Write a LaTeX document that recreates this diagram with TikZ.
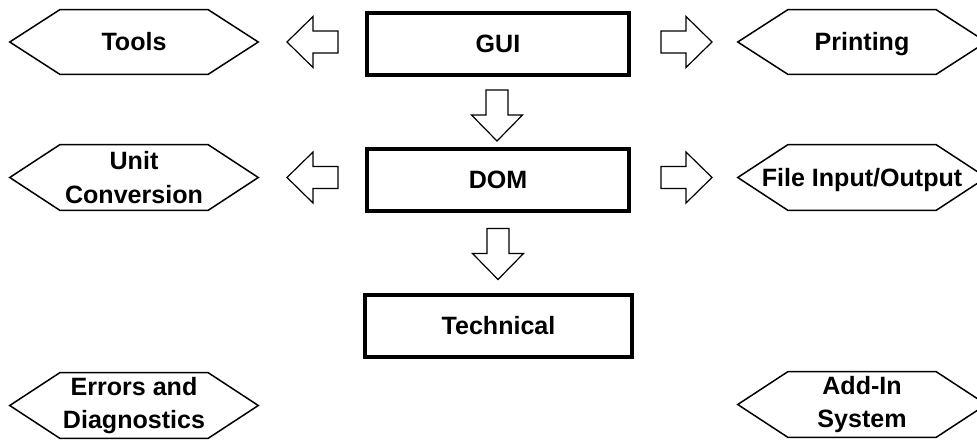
\documentclass[tikz,border=0pt]{standalone}
\usepackage{fontspec}
\setmainfont{Liberation Sans}
\usetikzlibrary{calc}
\newdimen\px \px=0.75pt
\tikzset{
  txt/.style={font=\bfseries\fontsize{18.8pt}{25pt}\selectfont, align=center, inner sep=0pt},
  oneline/.style={text height=13.46pt, text depth=0pt},
  mainbox/.style={txt, oneline, draw, line width=4\px, minimum width=262\px, minimum height=62\px},
  hexnode/.style={txt, minimum width=248\px, minimum height=65\px},
  hexline/.style={line width=1.5\px, line join=miter},
  arrline/.style={line width=1.2\px, line join=miter, fill=white},
  barrow/.pic={\draw[arrline] (0,-11) -- (25,-11) -- (25,-25.5) -- (51,0) -- (25,25.5) -- (25,11) -- (0,11) -- cycle;}
}
\begin{document}
\begin{tikzpicture}[x=0.75pt, y=-0.75pt]
\useasboundingbox (0,0) rectangle (977,439);
% main boxes
\node[mainbox] (gui) at (498,44) {GUI};
\node[mainbox] (dom) at (498,179.5) {DOM};
\node[mainbox, minimum width=267\px] (tech) at (498.5,326) {Technical};
% hexagon nodes
\node[hexnode, oneline, minimum height=64\px] (tools) at (134,42) {Tools};
\node[hexnode, oneline, minimum height=64\px] (print) at (862,42) {Printing};
\node[hexnode] (unit) at (134,177.5) {Unit\\Conversion};
\node[hexnode, oneline] (fio) at (862,177.5) {File Input/Output};
\node[hexnode] (err) at (134,405.5) {Errors and\\Diagnostics};
\node[hexnode] (addin) at (862,404.5) {Add-In\\System};
\foreach \n in {tools,print,unit,fio,err,addin}
  \draw[hexline] (\n.west) -- ([xshift=50\px]\n.north west) -- ([xshift=-50\px]\n.north east)
     -- (\n.east) -- ([xshift=-50\px]\n.south east) -- ([xshift=50\px]\n.south west) -- cycle;
% block arrows
\pic[rotate=180] at ($(gui.west)+(-27,-2)$) {barrow};
\pic at ($(gui.east)+(30,-2)$) {barrow};
\pic[rotate=180] at ($(dom.west)+(-27,-2)$) {barrow};
\pic at ($(dom.east)+(30,-2)$) {barrow};
\pic[rotate=-90] at ($(gui.south)+(-1,13)$) {barrow};
\pic[rotate=-90] at ($(dom.south)+(0,16)$) {barrow};
\end{tikzpicture}
\end{document}
